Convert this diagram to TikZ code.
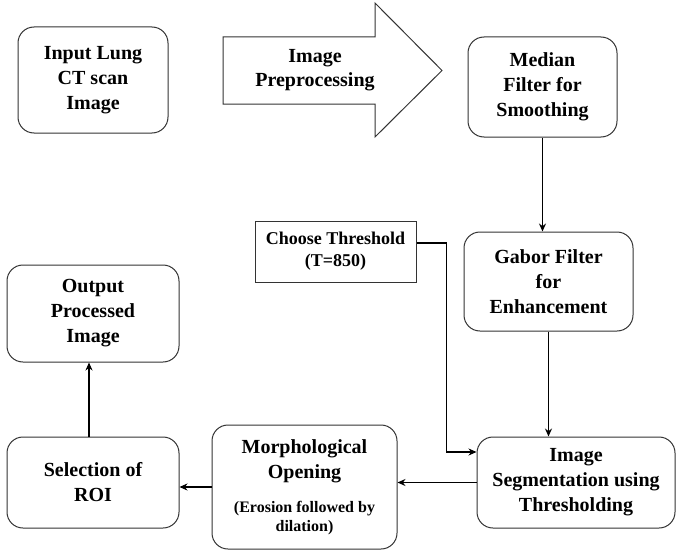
\documentclass[tikz,border=0pt]{standalone}
\usepackage{fontspec}
\setmainfont{Liberation Serif}
\usetikzlibrary{arrows.meta,calc}
\begin{document}
\begin{tikzpicture}[x=1pt,y=-1pt,
  rbox/.style={draw=black!80, line width=1pt, rounded corners=16pt, align=center,
    font=\bfseries\fontsize{20}{25}\selectfont, inner sep=0pt},
  sbox/.style={draw=black!80, line width=1pt, align=center,
    font=\bfseries\fontsize{18}{22}\selectfont, inner sep=0pt},
  conn/.style={line width=1.8pt, -{Stealth[length=8pt,width=7pt]}},
]
\useasboundingbox (0,0) rectangle (677,551);
\fill[white] (0,0) rectangle (677,551);

% nodes
\node[rbox, minimum width=150pt, minimum height=106pt] (input) at (93,80) {Input Lung\\CT scan\\Image};
\draw[draw=black!80, line width=1pt, fill=white] (223,37) -- (375,37) -- (375,3) -- (442,70.5) -- (375,137) -- (375,104) -- (223,104) -- cycle;
\node[align=center, font=\bfseries\fontsize{20}{24}\selectfont] (pre) at (315,70) {Image\\Preprocessing};
\node[rbox, minimum width=149pt, minimum height=100pt] (median) at (542.5,87) {Median\\Filter for\\Smoothing};
\node[rbox, minimum width=169pt, minimum height=99pt] (gabor) at (548.5,281.5) {Gabor Filter\\for\\Enhancement};
\node[sbox, minimum width=161pt, minimum height=61pt] (choose) at (335.5,251.5) {Choose Threshold\\(T=850)};
\node[rbox, minimum width=198pt, minimum height=91pt] (seg) at (576,482.5) {Image\\Segmentation using\\Thresholding};
\node[rbox, minimum width=185pt, minimum height=124pt] (morph) at (304.5,487)
  {\begin{minipage}{180pt}\centering\fontsize{20}{25}\selectfont Morphological\\Opening\par
   \vspace{15pt}\fontsize{16}{19}\selectfont(Erosion followed by\\dilation)\par\end{minipage}};
\node[rbox, minimum width=172pt, minimum height=91pt] (sel) at (93,482.5) {Selection of\\ROI};
\node[rbox, minimum width=172pt, minimum height=97pt] (out) at (93,313.5) {Output\\Processed\\Image};

% connectors
\draw[conn] (median.south) -- (median.south |- gabor.north);
\draw[conn] (gabor.south) -- (gabor.south |- seg.north);
\draw[conn] ([yshift=8.5pt]choose.east) -- ++(30,0) |- ([yshift=30.5pt]seg.west);
\draw[conn] (seg.west) -- (seg.west -| morph.east);
\draw[conn] (morph.west) -- (morph.west -| sel.east);
\draw[conn] ([xshift=-4pt]sel.north) -- ([xshift=-4pt]out.south);
\end{tikzpicture}
\end{document}
